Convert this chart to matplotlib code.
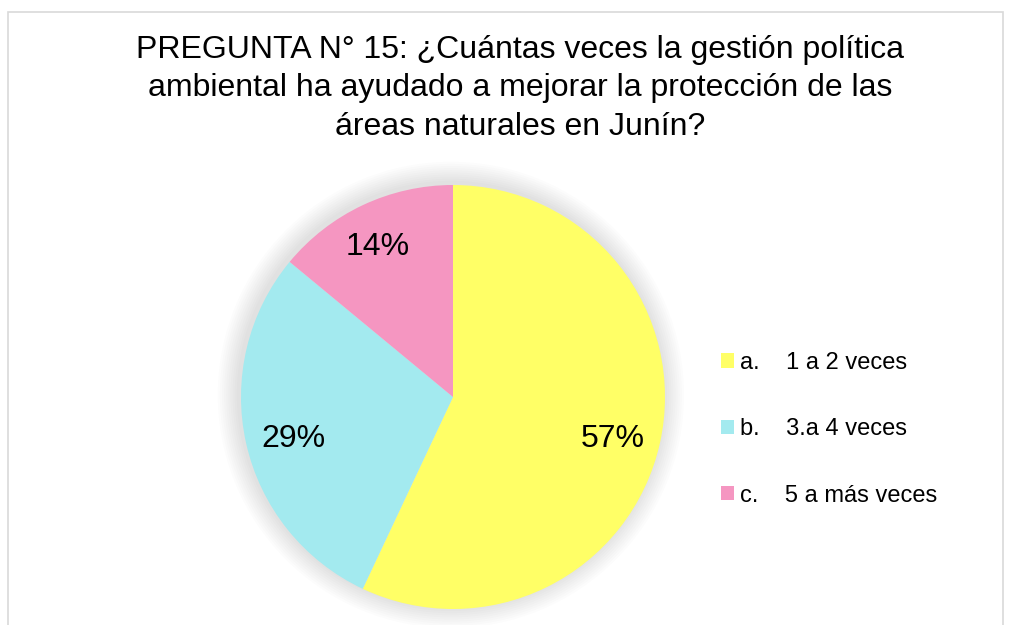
import matplotlib
matplotlib.use("Agg")
from matplotlib import pyplot as plt
from matplotlib.patches import Patch, Rectangle, Circle

plt.rcParams['font.family'] = ['Liberation Sans', 'DejaVu Sans']

title = ("PREGUNTA N° 15: ¿Cuántas veces la gestión política\n"
         "ambiental ha ayudado a mejorar la protección de las\n"
         "áreas naturales en Junín?")
labels = ['a.    1 a 2 veces', 'b.    3.a 4 veces', 'c.    5 a más veces']
values = [57, 29, 14]
colors = ['#FFFF66', '#A3EAEF', '#F596C1']

fig = plt.figure(figsize=(10.15, 6.25), dpi=100)
fig.patch.set_facecolor('white')

# chart area border
fig.patches.append(Rectangle((8 / 1015, -0.01), 995 / 1015, 1 - 12 / 625 + 0.01,
                             transform=fig.transFigure, fill=False,
                             edgecolor='#d9d9d9', linewidth=1.2))

fig.text(0.5125, 1 - 35 / 625, title, ha='center', va='top', fontsize=23,
         linespacing=1.36, color='#000000')

ax = fig.add_axes([241 / 1015, 16 / 625, 424 / 1015, 424 / 625])
ax.axis('off')

# soft shadow around the pie
for i in range(10):
    ax.add_patch(Circle((-0.01, 0.01), 1.0 + 0.01 * (i + 1), facecolor='#000000',
                        alpha=0.012, edgecolor='none', zorder=0,
                        clip_on=False))

wedges, texts, autotexts = ax.pie(values, colors=colors, startangle=90,
                                  counterclock=False, radius=1.0,
                                  autopct='%1.0f%%', pctdistance=0.77,
                                  textprops={'fontsize': 23, 'color': 'black'},
                                  wedgeprops={'linewidth': 0})
for w in wedges:
    w.set_zorder(2)
for t in autotexts:
    t.set_zorder(3)
    x, y = t.get_position()
    t.set_position((x, y - 0.03))
x, y = autotexts[2].get_position()
autotexts[2].set_position((x * 1.08, y * 1.06))

ax.set_xlim(-1, 1)
ax.set_ylim(-1, 1)
ax.set_aspect('equal')

handles = [Patch(facecolor=c, edgecolor='none') for c in colors]
fig.legend(handles, labels, loc='upper left', bbox_to_anchor=(702 / 1015, 1 - 333 / 625),
           frameon=False, fontsize=17, labelspacing=1.88,
           handlelength=0.55, handleheight=0.55, handletextpad=0.25,
           borderpad=0.3)

fig.savefig('out.png', dpi=100, facecolor='white')
